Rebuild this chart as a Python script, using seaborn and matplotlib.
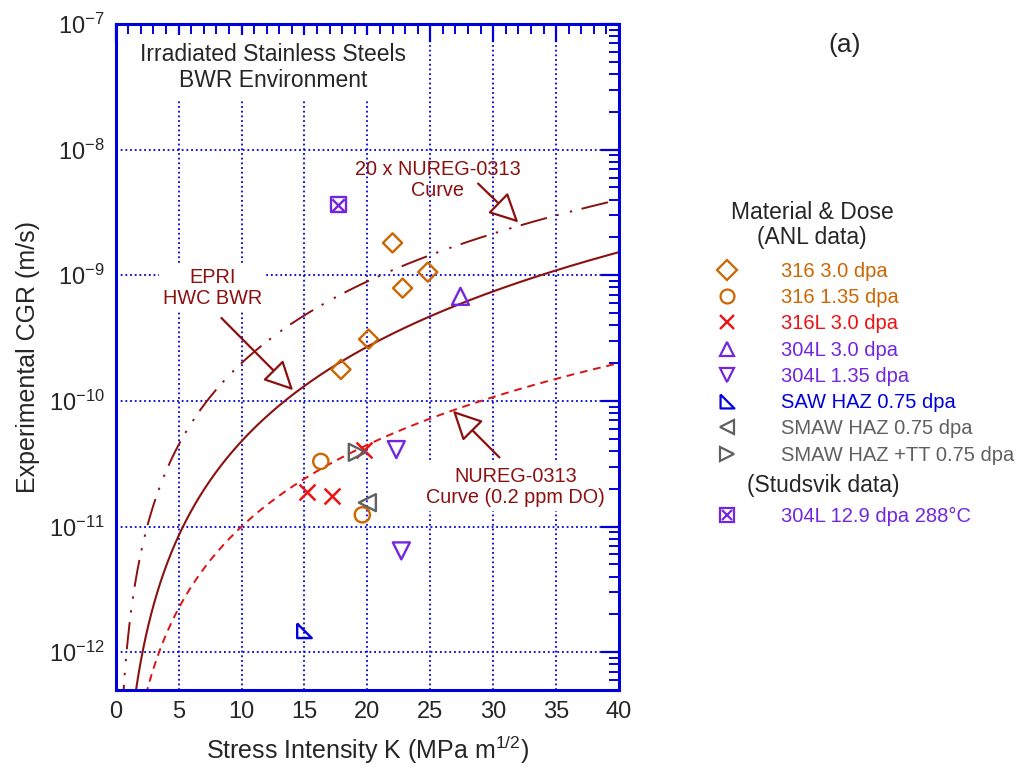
import numpy as np
import pandas as pd
import matplotlib
matplotlib.use("Agg")
import matplotlib.pyplot as plt
import seaborn as sns
from matplotlib.lines import Line2D
from matplotlib.patches import FancyArrowPatch
from matplotlib.ticker import LogLocator, MultipleLocator, NullFormatter

# ---- data ----
d316_30_k = [22.0, 24.8, 22.8, 20.1, 17.9]
d316_30_cgr = [1.81e-9, 1.06e-9, 7.9e-10, 3.1e-10, 1.78e-10]

d316_135_k = [16.3, 19.6]
d316_135_cgr = [3.3e-11, 1.24e-11]

d316l_30_k = [15.2, 17.2, 19.7]
d316l_30_cgr = [1.87e-11, 1.74e-11, 4.1e-11]

d304l_30_k = [27.4]
d304l_30_cgr = [6.8e-10]

d304l_135_k = [22.3, 22.7]
d304l_135_cgr = [4.1e-11, 6.4e-12]

saw_k = [15.0]
saw_cgr = [1.48e-12]

smaw_k = [20.0]
smaw_cgr = [1.55e-11]

smaw_tt_k = [19.2]
smaw_tt_cgr = [3.9e-11]

stud_k = [17.7]
stud_cgr = [3.64e-9]

# disposition curves: CGR = coef * K^exp
NUREG_COEF, NUREG_EXP = 6.9e-14, 2.161
NUREG20_FACTOR = 20
EPRI_COEF, EPRI_EXP = 1.51e-13, 2.5

DARKRED = "#8b1010"
ORANGE = "#cc6600"
RED = "#ee1111"
PURPLE = "#7226dd"
BLUE = "#0000dd"
GRAY = "#606060"
AXBLUE = "#0000dd"

sns.set_style("white")
plt.rcParams["font.family"] = ["Liberation Sans", "DejaVu Sans"]
plt.rcParams["mathtext.fontset"] = "custom"
plt.rcParams["mathtext.rm"] = "Liberation Sans"

fig = plt.figure(figsize=(10.24, 7.74), dpi=100)
ax = fig.add_axes([0.113, 0.1085, 0.4915, 0.8605])

# curves
K = np.linspace(0.3, 40, 800)
curves = pd.DataFrame({
    "K": K,
    "nureg": NUREG_COEF * K ** NUREG_EXP,
    "nureg20": NUREG20_FACTOR * NUREG_COEF * K ** NUREG_EXP,
    "epri": EPRI_COEF * K ** EPRI_EXP,
})
sns.lineplot(data=curves, x="K", y="epri", color=DARKRED, lw=1.5, ax=ax)
sns.lineplot(data=curves, x="K", y="nureg", color="#dd1111", lw=1.4,
             ax=ax, linestyle=(0, (4, 3)))
sns.lineplot(data=curves, x="K", y="nureg20", color=DARKRED, lw=1.4,
             ax=ax, linestyle=(0, (14, 5, 1.2, 6, 1.2, 5)))

# scatter series
series = [
    (d316_30_k, d316_30_cgr, "D", ORANGE, "316 3.0 dpa", 95),
    (d316_135_k, d316_135_cgr, "o", ORANGE, "316 1.35 dpa", 120),
    (d316l_30_k, d316l_30_cgr, "x", RED, "316L 3.0 dpa", 130),
    (d304l_30_k, d304l_30_cgr, "^", PURPLE, "304L 3.0 dpa", 150),
    (d304l_135_k, d304l_135_cgr, "v", PURPLE, "304L 1.35 dpa", 150),
    (saw_k, saw_cgr, [(-1, 1), (-1, -1), (1, -1), (-1, 1)], BLUE, "SAW HAZ 0.75 dpa", 110),
    (smaw_k, smaw_cgr, "<", GRAY, "SMAW HAZ 0.75 dpa", 150),
    (smaw_tt_k, smaw_tt_cgr, ">", GRAY, "SMAW HAZ +TT 0.75 dpa", 150),
]
for k, c, m, col, lab, s in series:
    df = pd.DataFrame({"K": k, "CGR": c})
    if m == "x":
        sns.scatterplot(data=df, x="K", y="CGR", marker=m, color=col, s=s,
                        linewidth=1.8, ax=ax, zorder=5)
    else:
        sns.scatterplot(data=df, x="K", y="CGR", marker=m, facecolor="none",
                        edgecolor=col, s=s, linewidth=1.7, ax=ax, zorder=5)

# Studsvik: boxed X
df = pd.DataFrame({"K": stud_k, "CGR": stud_cgr})
sns.scatterplot(data=df, x="K", y="CGR", marker="s", facecolor="none",
                edgecolor=PURPLE, s=120, linewidth=1.7, ax=ax, zorder=5)
sns.scatterplot(data=df, x="K", y="CGR", marker="x", color=PURPLE,
                s=80, linewidth=1.7, ax=ax, zorder=5)

ax.set_yscale("log")
ax.set_xlim(0, 40)
ax.set_ylim(5e-13, 1e-7)
ax.xaxis.set_major_locator(MultipleLocator(5))
ax.xaxis.set_minor_locator(MultipleLocator(1))
ax.yaxis.set_major_locator(LogLocator(base=10, numticks=12))
ax.yaxis.set_minor_locator(LogLocator(base=10, subs=np.arange(2, 10), numticks=12))
ax.xaxis.set_minor_formatter(NullFormatter())
ax.yaxis.set_minor_formatter(NullFormatter())
ax.grid(True, which="major", color=AXBLUE, linestyle=(0, (1, 1.6)), lw=1.3)
ax.tick_params(which="both", direction="in", top=True, right=True,
               color=AXBLUE, labelsize=17, pad=8)
ax.tick_params(which="major", length=13, width=1.6)
ax.tick_params(which="minor", length=7, width=1.4)
for sp in ax.spines.values():
    sp.set_color(AXBLUE)
    sp.set_linewidth(2.2)
ax.set_xlabel("Stress Intensity K (MPa m$^{1/2}$)", fontsize=18, labelpad=8)
ax.set_ylabel("Experimental CGR (m/s)", fontsize=18, labelpad=6)

# annotations
ax.text(12.5, 4.5e-8, "Irradiated Stainless Steels\nBWR Environment", fontsize=16.5,
        ha="center", va="center", linespacing=1.15,
        bbox=dict(fc="white", ec="none", pad=6))


def arrow(tail, tip):
    ax.add_patch(FancyArrowPatch(tail, tip, arrowstyle="-|>,head_length=10,head_width=5",
                                 fc="white", ec=DARKRED, lw=1.6, shrinkA=0, shrinkB=0,
                                 mutation_scale=1.8, zorder=4))


arrow((28.8, 10 ** -8.27), (32.0, 10 ** -8.58))
ax.text(25.6, 10 ** -8.24, "20 x NUREG-0313\nCurve", color=DARKRED, fontsize=14.3,
        ha="center", va="center", linespacing=1.15)
arrow((8.4, 10 ** -9.34), (14.1, 10 ** -9.915))
ax.text(7.7, 10 ** -9.10, "EPRI\nHWC BWR", color=DARKRED, fontsize=14.3,
        ha="center", va="center", linespacing=1.15,
        bbox=dict(fc="white", ec="none", pad=3))
arrow((30.5, 10 ** -10.45), (26.8, 10 ** -10.078))
ax.text(31.8, 10 ** -10.685, "NUREG-0313\nCurve (0.2 ppm DO)", color=DARKRED, fontsize=14.3,
        ha="center", va="center", linespacing=1.15,
        bbox=dict(fc="white", ec="none", pad=3))

fig.text(0.825, 0.942, "(a)", fontsize=19, ha="center", va="center")

# legends
def handle(m, col):
    if m == "x":
        return Line2D([], [], ls="none", marker=m, color=col, ms=10, mew=1.7)
    return Line2D([], [], ls="none", marker=m, mfc="none", mec=col, ms=10, mew=1.6)

fig.text(0.793, 0.709, "Material & Dose\n(ANL data)", fontsize=16.5, ha="center",
         va="center", linespacing=1.1)
h1 = [handle(m, col) for _, _, m, col, _, _ in series]
l1 = [lab for *_, lab, _ in series]
leg1 = fig.legend(h1, l1, loc="upper left", bbox_to_anchor=(0.680, 0.685),
                  frameon=False, fontsize=14.5, handletextpad=2.1,
                  labelspacing=0.36, handlelength=1.2, borderpad=0.4)
for t, (*_, col, lab, _) in zip(leg1.get_texts(), series):
    t.set_color(col)

fig.text(0.804, 0.373, "(Studsvik data)", fontsize=16.5, ha="center", va="center")
h2 = [(Line2D([], [], ls="none", marker="s", mfc="none", mec=PURPLE, ms=10, mew=1.6),
       Line2D([], [], ls="none", marker="x", color=PURPLE, ms=7, mew=1.6))]
leg2 = fig.legend(h2, ["304L 12.9 dpa 288°C"], loc="upper left",
                  bbox_to_anchor=(0.680, 0.368), frameon=False, fontsize=14.5,
                  handletextpad=2.1, handlelength=1.2, borderpad=0.4)
leg2.get_texts()[0].set_color(PURPLE)

fig.savefig("out.png", dpi=100)
